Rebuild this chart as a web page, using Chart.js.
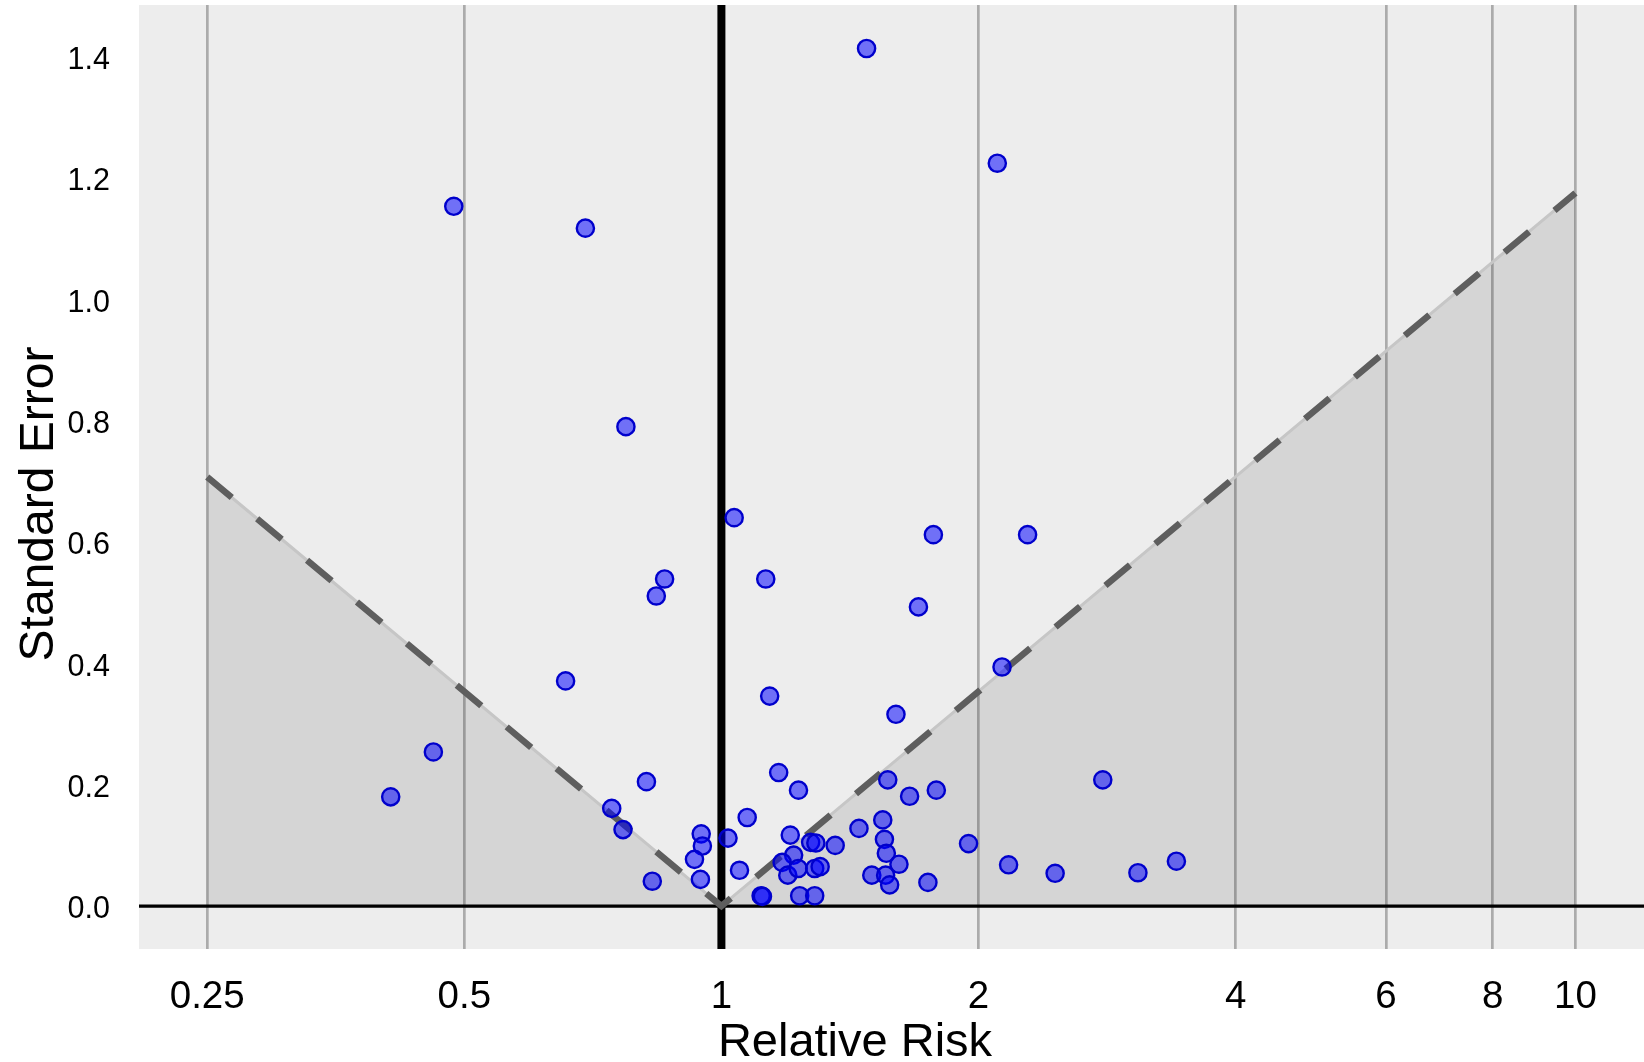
<!DOCTYPE html>
<html>
<head>
<meta charset="utf-8">
<title>Funnel plot</title>
<script src="https://cdn.jsdelivr.net/npm/chart.js@4.4.1/dist/chart.umd.min.js"></script>
<style>
    html, body { margin: 0; padding: 0; background: #ffffff; overflow: hidden; }
    canvas { display: block; }
</style>
</head>
<body>
<canvas id="funnelChart" width="1644" height="1062"></canvas>
<script>
// Study estimates
const relativeRisk = [
    1.479, 2.104, 0.486, 0.693, 0.773, 1.035, 1.771, 2.283, 0.858, 1.127,
    0.839, 1.701, 0.657, 1.139, 2.131, 1.601, 0.460, 0.410, 0.817, 0.744,
    0.767, 0.947, 0.950, 0.930, 0.945, 0.830, 1.018, 1.072, 1.050, 1.113,
    1.117, 1.167, 1.231, 1.204, 1.272, 1.290, 1.359, 1.215, 1.178, 1.196,
    1.230, 1.286, 1.305, 1.235, 1.286, 1.566, 1.661, 1.785, 1.449, 1.545,
    1.552, 1.560, 1.614, 1.500, 1.557, 1.574, 1.745, 1.947, 2.169, 2.459,
    2.796, 3.074, 3.410
];
const standardError = [
    1.413, 1.224, 1.153, 1.117, 0.790, 0.640, 0.612, 0.612, 0.539, 0.539,
    0.511, 0.493, 0.371, 0.346, 0.394, 0.316, 0.254, 0.180, 0.205, 0.161,
    0.126, 0.119, 0.099, 0.077, 0.044, 0.041, 0.112, 0.146, 0.059, 0.017,
    0.016, 0.220, 0.191, 0.117, 0.105, 0.104, 0.100, 0.084, 0.072, 0.051,
    0.062, 0.062, 0.065, 0.017, 0.017, 0.208, 0.181, 0.191, 0.128, 0.142,
    0.110, 0.087, 0.069, 0.051, 0.051, 0.035, 0.039, 0.103, 0.068, 0.054,
    0.208, 0.055, 0.074
];

// Funnel boundary (left end, apex, right end)
const funnelRR = [0.25, 1, 10];
const funnelSE = [0.707, 0, 1.175];

// Axes
const xTicks = [0.25, 0.5, 1, 2, 4, 6, 8, 10];
const yTicks = [0, 0.2, 0.4, 0.6, 0.8, 1.0, 1.2, 1.4];
const xRange = [0.208, 12.03];
const yRange = [-0.0707, 1.4847];

const FONT = '"Liberation Sans", Arial, Helvetica, sans-serif';

const toPoints = (xs, ys) => xs.map((x, i) => ({ x: x, y: ys[i] }));

// Grey panel behind the plot area, plus axis titles
const panelPlugin = {
    id: 'panel',
    beforeDraw(chart) {
        const { ctx, chartArea } = chart;
        ctx.save();
        ctx.fillStyle = '#ffffff';
        ctx.fillRect(0, 0, chart.width, chart.height);
        ctx.fillStyle = '#ededed';
        ctx.fillRect(chartArea.left, chartArea.top,
            chartArea.right - chartArea.left, chartArea.bottom - chartArea.top);
        ctx.restore();
    },
    afterDraw(chart) {
        const ctx = chart.ctx;
        ctx.save();
        ctx.fillStyle = '#000000';
        ctx.font = '47px ' + FONT;
        ctx.textAlign = 'center';
        ctx.textBaseline = 'alphabetic';
        ctx.fillText('Relative Risk', 855, 1056);
        ctx.translate(53, 504);
        ctx.rotate(-Math.PI / 2);
        ctx.font = '48px ' + FONT;
        ctx.fillText('Standard Error', 0, 0);
        ctx.restore();
    }
};

const ctx = document.getElementById('funnelChart');

const config = {
    type: 'scatter',
    data: {
        datasets: [
            {
                // studies
                data: toPoints(relativeRisk, standardError),
                backgroundColor: 'rgba(0, 0, 255, 0.53)',
                borderColor: '#0000cc',
                borderWidth: 2.4,
                pointRadius: 8.6,
                order: 0
            },
            {
                // dashed funnel line
                type: 'line',
                data: toPoints(funnelRR, funnelSE),
                borderColor: '#5e5e5e',
                borderWidth: 6.5,
                borderDash: [32, 33],
                pointRadius: 0,
                fill: false,
                tension: 0,
                order: 1
            },
            {
                // light solid outline under the dashes
                type: 'line',
                data: toPoints(funnelRR, funnelSE),
                borderColor: '#c6c6c6',
                borderWidth: 3,
                pointRadius: 0,
                fill: false,
                tension: 0,
                order: 2
            },
            {
                // shaded region outside the funnel
                type: 'line',
                data: toPoints(funnelRR, funnelSE),
                borderWidth: 0,
                borderColor: 'rgba(0,0,0,0)',
                backgroundColor: 'rgba(0, 0, 0, 0.097)',
                pointRadius: 0,
                fill: 'origin',
                tension: 0,
                order: 4
            },
            {
                // null effect line at RR = 1
                type: 'line',
                data: toPoints([1, 1], yRange),
                borderColor: '#000000',
                borderWidth: 8,
                pointRadius: 0,
                fill: false,
                order: 3
            },
            {
                // SE = 0 line
                type: 'line',
                data: toPoints(xRange, [0, 0]),
                borderColor: '#000000',
                borderWidth: 3.3,
                pointRadius: 0,
                fill: false,
                order: 3
            }
        ]
    },
    options: {
        responsive: false,
        animation: false,
        layout: {
            autoPadding: false,
            padding: { top: 5, left: 0, right: 0, bottom: 0 }
        },
        plugins: {
            legend: { display: false },
            tooltip: { enabled: false }
        },
        scales: {
            x: {
                type: 'logarithmic',
                min: xRange[0],
                max: xRange[1],
                afterBuildTicks: (scale) => {
                    scale.ticks = xTicks.map(v => ({ value: v }));
                },
                afterFit: (scale) => {
                    scale.height = 113;
                    scale.paddingLeft = 0;
                    scale.paddingRight = 0;
                },
                grid: {
                    color: 'rgba(0, 0, 0, 0.28)',
                    lineWidth: 2.7,
                    drawTicks: false
                },
                border: { display: false },
                ticks: {
                    padding: 29,
                    maxRotation: 0,
                    autoSkip: false,
                    color: '#000000',
                    font: { family: FONT, size: 38.5, lineHeight: 1 },
                    callback: function(value) {
                        return String(value);
                    }
                }
            },
            y: {
                type: 'linear',
                min: yRange[0],
                max: yRange[1],
                afterBuildTicks: (scale) => {
                    scale.ticks = yTicks.map(v => ({ value: v }));
                },
                afterFit: (scale) => {
                    scale.width = 139;
                    scale.paddingTop = 0;
                    scale.paddingBottom = 0;
                },
                grid: { display: false, drawTicks: false },
                border: { display: false },
                ticks: {
                    padding: 29,
                    labelOffset: 4,
                    color: '#000000',
                    font: { family: FONT, size: 30.5, lineHeight: 1 },
                    callback: function(value) {
                        return Number(value).toFixed(1);
                    }
                }
            }
        }
    },
    plugins: [panelPlugin]
};

new Chart(ctx, config);
</script>
</body>
</html>
